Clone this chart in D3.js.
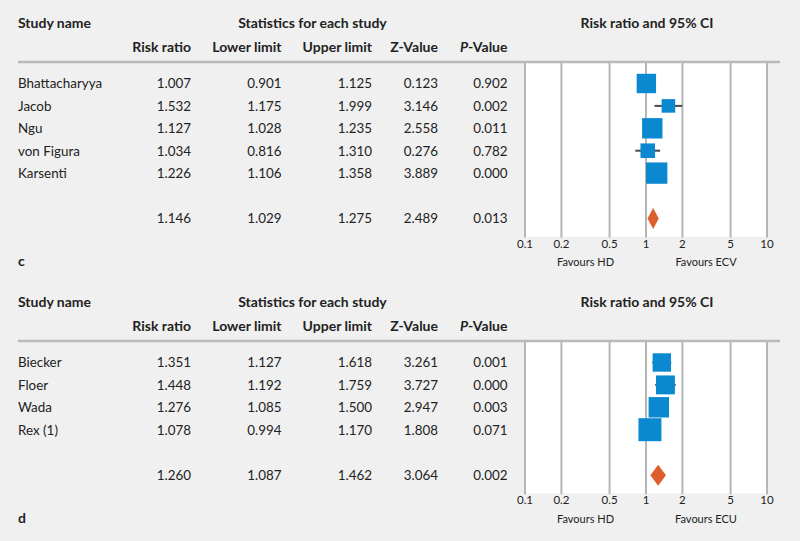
<!DOCTYPE html>
<html><head><meta charset="utf-8">
<script src="https://cdn.jsdelivr.net/npm/d3@7/dist/d3.min.js"></script>
<style>
html,body{margin:0;padding:0;background:#f0f0f0;}
svg{display:block;font-family:Lato,"Open Sans",sans-serif;}
</style></head><body>
<svg id="chart" width="800" height="541"></svg>
<script>
// ---- Data ----
const columnHeaders = ["Risk ratio","Lower limit","Upper limit","Z-Value","P-Value"];
const axisTicks = [0.1, 0.2, 0.5, 1, 2, 5, 10];
const axisTickLabels = ["0.1","0.2","0.5","1","2","5","10"];

const studiesC = ["Bhattacharyya","Jacob","Ngu","von Figura","Karsenti"];
const riskRatioC = [1.007, 1.532, 1.127, 1.034, 1.226];
const lowerC = [0.901, 1.175, 1.028, 0.816, 1.106];
const upperC = [1.125, 1.999, 1.235, 1.310, 1.358];
const zValueC = [0.123, 3.146, 2.558, 0.276, 3.889];
const pValueC = [0.902, 0.002, 0.011, 0.782, 0.000];
const weightC = [22.9, 11.2, 25.3, 12.9, 27.7];
const summaryC = [1.146, 1.029, 1.275, 2.489, 0.013];
const favoursC = ["Favours HD", "Favours ECV"];

const studiesD = ["Biecker","Floer","Wada","Rex (1)"];
const riskRatioD = [1.351, 1.448, 1.276, 1.078];
const lowerD = [1.127, 1.192, 1.085, 0.994];
const upperD = [1.618, 1.759, 1.500, 1.170];
const zValueD = [3.261, 3.727, 2.947, 1.808];
const pValueD = [0.001, 0.000, 0.003, 0.071];
const weightD = [20.6, 21.8, 25.4, 32.2];
const summaryD = [1.260, 1.087, 1.462, 3.064, 0.002];
const favoursD = ["Favours HD", "Favours ECU"];

// ---- Drawing ----
const svg = d3.select("#chart");
const fmt = d3.format(".3f");
const x = d3.scaleLog().domain([0.1, 10]).range([525, 767]);
const side = d3.scaleSqrt().domain([0, 100]).range([0, 40.5]);
const colRight = [191, 281.5, 372, 438, 507.5];
const TEXT = "#222", BLUE = "#0a88d0", ORANGE = "#dd5f2b", GRID = "#b5b5b5";
const FS = 13.4, FSB = 14;

function panel(oy, label, names, rr, lo, hi, zv, pv, w, summ, fav) {
  const g = svg.append("g").attr("transform", `translate(0,${oy})`);
  const rowStep = 22.4, firstRow = 83.5;
  const rowY = i => firstRow + i * rowStep;
  const sumY = rowY(names.length - 1) + 45.5;
  const bottom = sumY + 18;

  g.append("rect").attr("x", x(0.1)).attr("y", 62).attr("width", x(10) - x(0.1))
    .attr("height", bottom - 62).attr("fill", "#fff");
  g.selectAll(".grid").data(axisTicks).join("line")
    .attr("x1", d => x(d)).attr("x2", d => x(d)).attr("y1", 62).attr("y2", bottom + 1)
    .attr("stroke", GRID).attr("stroke-width", 2);
  g.append("line").attr("x1", 18).attr("x2", 780).attr("y1", 62).attr("y2", 62)
    .attr("stroke", "#b9b9b9").attr("stroke-width", 2.5);

  g.append("text").attr("x", 18).attr("y", 28).attr("font-weight", "bold")
    .attr("font-size", FSB).attr("fill", TEXT).text("Study name");
  g.append("text").attr("x", 312.5).attr("y", 28).attr("text-anchor", "middle").attr("font-weight", "bold")
    .attr("font-size", FSB).attr("fill", TEXT).text("Statistics for each study");
  g.append("text").attr("x", x(1) + 1).attr("y", 28).attr("text-anchor", "middle").attr("font-weight", "bold")
    .attr("font-size", FSB).attr("fill", TEXT).text("Risk ratio and 95% CI");
  columnHeaders.forEach((h, i) => {
    const t = g.append("text").attr("x", colRight[i]).attr("y", 51.5).attr("text-anchor", "end")
      .attr("font-weight", "bold").attr("font-size", FSB).attr("fill", TEXT);
    if (h === "P-Value") {
      t.append("tspan").attr("font-style", "italic").text("P");
      t.append("tspan").text("-Value");
    } else t.text(h);
  });

  names.forEach((n, i) => {
    const y = rowY(i) + 4.8;
    g.append("text").attr("x", 18).attr("y", y).attr("font-size", FS).attr("fill", TEXT).text(n);
    [rr[i], lo[i], hi[i], zv[i], pv[i]].forEach((v, j) => {
      g.append("text").attr("x", colRight[j]).attr("y", y).attr("text-anchor", "end")
        .attr("font-size", FS).attr("fill", TEXT).text(fmt(v));
    });
    g.append("line").attr("x1", x(lo[i])).attr("x2", x(hi[i])).attr("y1", rowY(i)).attr("y2", rowY(i))
      .attr("stroke", "#4a4a4a").attr("stroke-width", 2);
    const s = side(w[i]);
    g.append("rect").attr("x", x(rr[i]) - s / 2).attr("y", rowY(i) - s / 2)
      .attr("width", s).attr("height", s).attr("fill", BLUE);
  });

  summ.forEach((v, j) => {
    g.append("text").attr("x", colRight[j]).attr("y", sumY + 4.8).attr("text-anchor", "end")
      .attr("font-size", FS).attr("fill", TEXT).text(fmt(v));
  });
  const hh = 10.5;
  g.append("path").attr("d", `M${x(summ[1])},${sumY} L${x(summ[0])},${sumY - hh} L${x(summ[2])},${sumY} L${x(summ[0])},${sumY + hh} Z`)
    .attr("fill", ORANGE);

  g.selectAll(".tl").data(axisTicks).join("text")
    .attr("x", d => x(d)).attr("y", bottom + 11).attr("text-anchor", "middle")
    .attr("font-size", 11.5).attr("fill", TEXT).text((d, i) => axisTickLabels[i]);
  g.append("text").attr("x", 585.5).attr("y", bottom + 29.5).attr("text-anchor", "middle")
    .attr("font-size", 11).attr("fill", TEXT).text(fav[0]);
  g.append("text").attr("x", 706).attr("y", bottom + 29.5).attr("text-anchor", "middle")
    .attr("font-size", 11).attr("fill", TEXT).text(fav[1]);
  g.append("text").attr("x", 18).attr("y", bottom + 29.5).attr("font-weight", "bold")
    .attr("font-size", FSB).attr("fill", TEXT).text(label);
}

panel(0, "c", studiesC, riskRatioC, lowerC, upperC, zValueC, pValueC, weightC, summaryC, favoursC);
panel(279, "d", studiesD, riskRatioD, lowerD, upperD, zValueD, pValueD, weightD, summaryD, favoursD);
</script>
</body></html>
